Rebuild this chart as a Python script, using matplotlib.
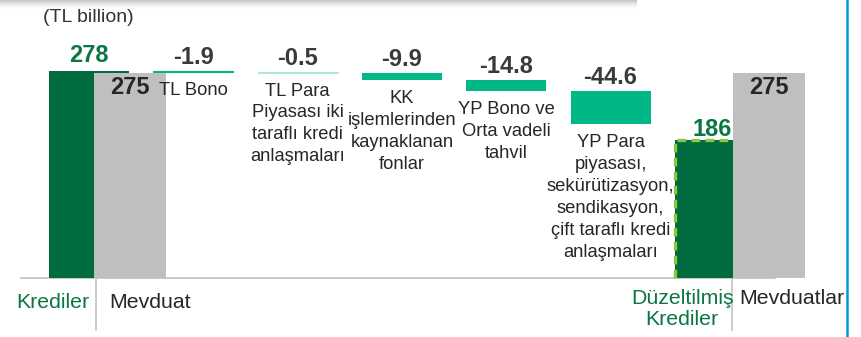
import matplotlib
matplotlib.use("Agg")
import matplotlib.pyplot as plt
import matplotlib.patches as mpatches
from matplotlib import font_manager

# ── data (TL billion) ─────────────────────────────────────────────────────────

loans_start = 278
loans_adjusted = 186
deposits = [275, 275]
step_values = [-1.9, -0.5, -9.9, -14.8, -44.6]
step_labels = [
    "TL Bono",
    "TL Para\nPiyasası iki\ntaraflı kredi\nanlaşmaları",
    "KK\nişlemlerinden\nkaynaklanan\nfonlar",
    "YP Bono ve\nOrta vadeli\ntahvil",
    "YP Para\npiyasası,\nsekürütizasyon,\nsendikasyon,\nçift taraflı kredi\nanlaşmaları",
]
axis_labels = ["Krediler", "Mevduat", "Düzeltilmiş\nKrediler", "Mevduatlar"]

# ── style ─────────────────────────────────────────────────────────────────────

GREEN = "#006b3f"
GREEN_TXT = "#0b7543"
TEAL = "#00b887"
TEAL_LIGHT = "#a9e9d5"
GREY = "#bfbfbf"
TXT = "#262626"
NUM = "#3a3a3a"
LIME = "#8dc63f"

# prefer the narrow face; fall back to regular Liberation Sans at a smaller size
try:
    font_manager.findfont("Liberation Sans Narrow", fallback_to_default=False)
    FAMILY = ["Liberation Sans Narrow", "DejaVu Sans"]
    FS, FS_AX, FS_NUM = 15, 18, 19
except ValueError:
    FAMILY = ["Liberation Sans", "DejaVu Sans"]
    FS, FS_AX, FS_NUM = 13.2, 15.3, 17
plt.rcParams["font.family"] = FAMILY

W, H = 862, 337
fig = plt.figure(figsize=(W / 100, H / 100), dpi=100)
ax = fig.add_axes([0, 0, 1, 1])
ax.set_xlim(-0.853, 7.411)
ax.set_ylim(-79.2, 373.4)
ax.axis("off")

BAR_W = 0.767
DEP_W = 0.69
dep_x = [0.39, 6.52]

# ── opening loans + deposits ──────────────────────────────────────────────────

ax.bar(0, loans_start, width=BAR_W, color=GREEN, zorder=2)
ax.annotate(f"{loans_start}", (0, loans_start), xytext=(0, 3), textcoords="offset points",
            ha="center", va="bottom", fontsize=FS_NUM, fontweight="bold", color=GREEN_TXT)

# ── waterfall steps ───────────────────────────────────────────────────────────

level = loans_start
for i, (val, lab) in enumerate(zip(step_values, step_labels), start=1):
    bottom = level + val
    if abs(val) < 1:
        fc, ec, lw = TEAL_LIGHT, TEAL_LIGHT, 0.7
    elif abs(val) < 5:
        fc, ec, lw = TEAL, TEAL, 0.8
    else:
        fc, ec, lw = TEAL, TEAL, 0
    ax.bar(i, -val, bottom=bottom, width=BAR_W, color=fc, edgecolor=ec, linewidth=lw, zorder=2)
    ax.annotate(f"{val:.1f}", (i, level), xytext=(0, 1.5), textcoords="offset points",
                ha="center", va="bottom", fontsize=FS_NUM, fontweight="bold", color=NUM)
    ax.annotate(lab, (i, bottom), xytext=(0, -7), textcoords="offset points",
                ha="center", va="top", fontsize=FS, color=TXT, linespacing=1.38, zorder=6)
    level = bottom

# ── adjusted loans with dashed outline ────────────────────────────────────────

x_end = len(step_values) + 1
ax.bar(x_end, loans_adjusted, width=BAR_W, color=GREEN, zorder=2)
left = x_end - BAR_W / 2
ax.plot([left, left, x_end + BAR_W / 2], [0, loans_adjusted, loans_adjusted],
        color=LIME, lw=2.4, dashes=(2.6, 1.6), zorder=3, solid_capstyle="butt")
ax.annotate(f"{loans_adjusted}", (x_end, loans_adjusted), xytext=(-2, -1), textcoords="offset points",
            ha="center", va="bottom", fontsize=FS_NUM, fontweight="bold", color=GREEN_TXT, zorder=5)

for x, d in zip(dep_x, deposits):
    ax.bar(x, d, width=DEP_W, color=GREY, zorder=4)
    ax.annotate(f"{d}", (x, d), xytext=(0, -2), textcoords="offset points",
                ha="center", va="top", fontsize=FS_NUM, fontweight="bold", color=TXT, zorder=5)

# ── baseline, separators and axis captions ────────────────────────────────────

ax.plot([-0.65, 6.58], [0, 0], color="#c4c4c4", lw=1.3, zorder=1)
ax.plot([0.07, 0.07], [0, -70], color="#c8c8c8", lw=1.3, zorder=1)
ax.plot([6.165, 6.165], [31, -70], color="#c8c8c8", lw=1.3, zorder=1)

ax.annotate(axis_labels[0], (0.07, 0), xytext=(-5, -11), textcoords="offset points",
            ha="right", va="top", fontsize=FS_AX, color=GREEN_TXT)
ax.annotate(axis_labels[1], (0.07, 0), xytext=(9, -11), textcoords="offset points",
            ha="left", va="top", fontsize=FS_AX, color=TXT)
ax.annotate(axis_labels[2], (6.165, 0), xytext=(1, -8), textcoords="offset points",
            ha="right", va="top", fontsize=FS_AX, color=GREEN_TXT, multialignment="center",
            linespacing=1.12)
ax.annotate(axis_labels[3], (6.165, 0), xytext=(5, -8), textcoords="offset points",
            ha="left", va="top", fontsize=FS_AX, color=TXT)

fig.text(43 / W, 1 - 17 / H, "(TL billion)", ha="left", va="center", fontsize=14, color="#333333")

# blue frame edge on the right
ax.axvline(7.267, color="#0096d6", lw=1.8, zorder=6)

# soft shadow of the header box above the chart
for k in range(9):
    fig.add_artist(mpatches.Rectangle((0, 1 - (k + 1) / H), 637 / W, 1 / H,
                                      transform=fig.transFigure, color="#9a9a9a",
                                      alpha=0.55 * (1 - k / 9) ** 1.6, lw=0))

fig.savefig("out.png", dpi=100, facecolor="white")
